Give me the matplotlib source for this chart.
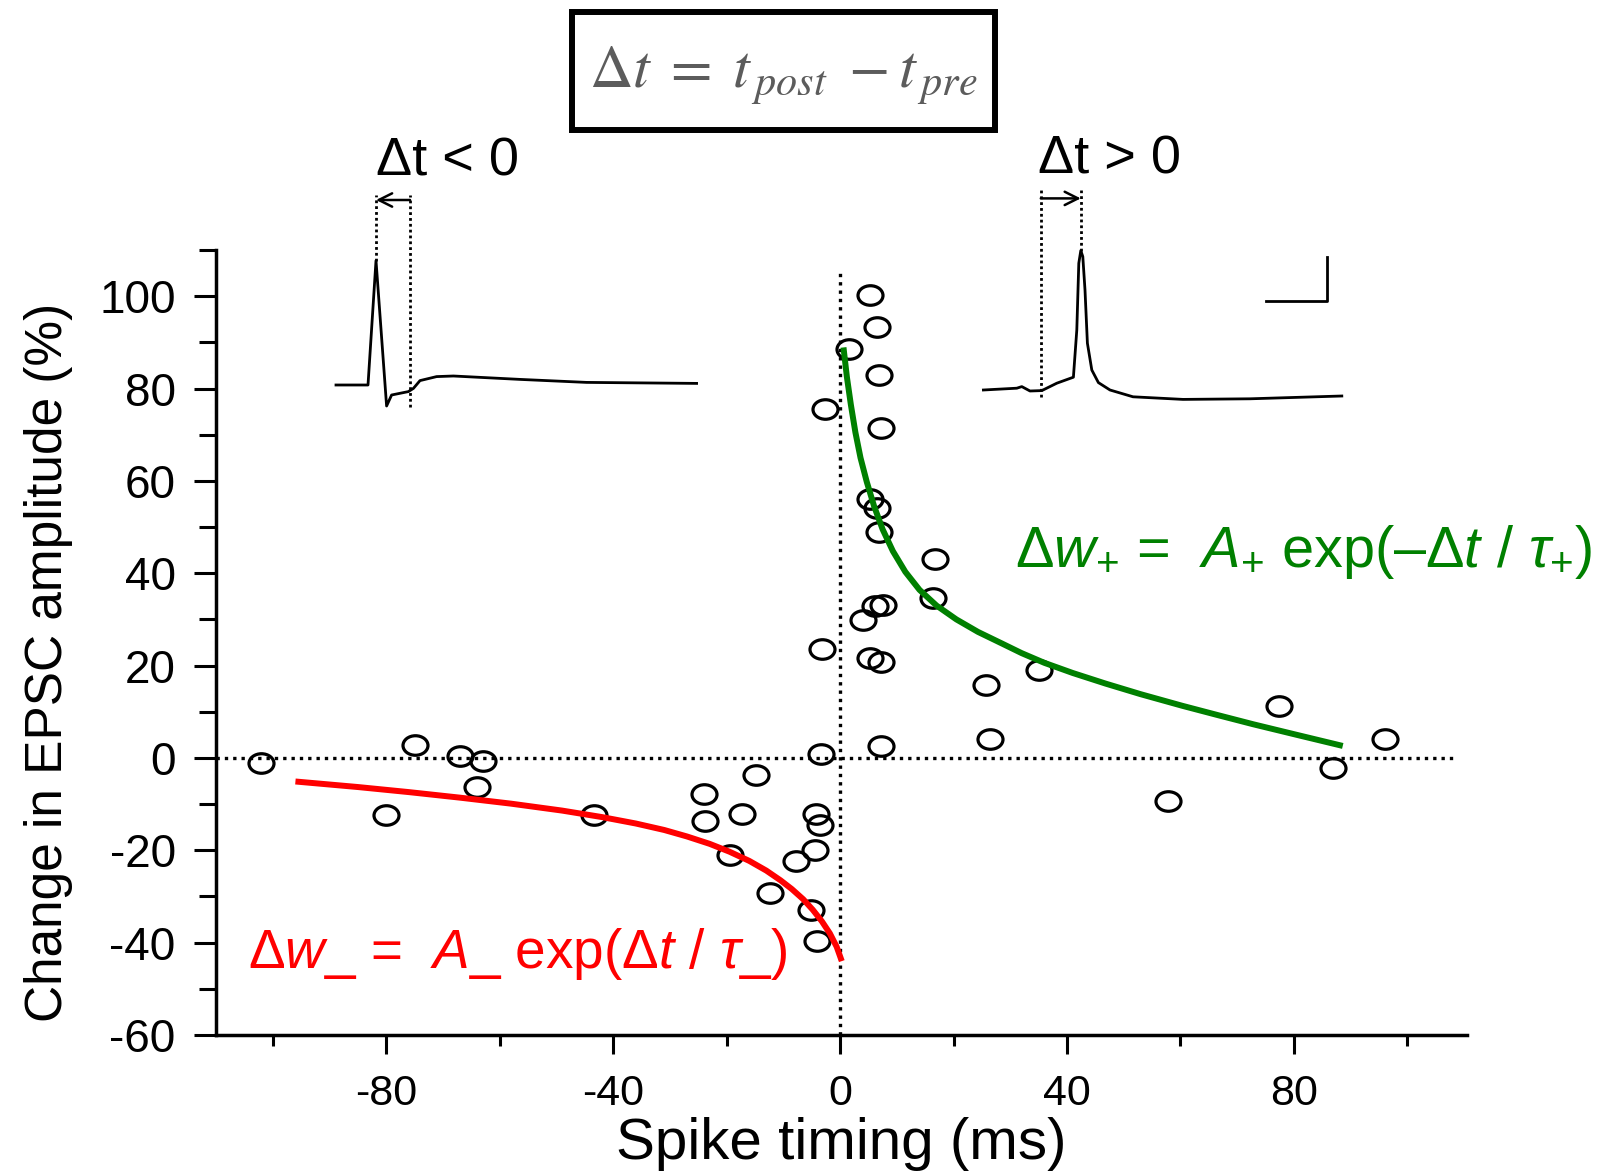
import numpy as np
import matplotlib.pyplot as plt
from matplotlib.path import Path
from matplotlib.transforms import Affine2D
from matplotlib.patches import Rectangle

plt.rcParams['font.family'] = ['Liberation Sans', 'DejaVu Sans']
plt.rcParams['mathtext.fontset'] = 'custom'
plt.rcParams['mathtext.rm'] = 'Liberation Sans'
plt.rcParams['mathtext.it'] = 'Liberation Sans:italic'
plt.rcParams['axes.unicode_minus'] = False

# spike timing (ms) vs change in EPSC amplitude (%)
dt = [-102, -80, -75, -67, -63, -64, -43.3, -24, -23.8, -17.3, -14.8, -19.4,
      -12.3, -7.8, -5.1, -4, -4.4, -4.3, -3.6, -3.4, -3.2, -2.6,
      1.5, 5.2, 6.5, 6.9, 7.2, 5.2, 6.5, 6.9, 7.5, 6.2, 4.1, 5.3, 7.2, 7.3,
      16.7, 16.3, 25.8, 26.5, 35.1, 57.8, 77.4, 86.9, 96.1]
dw = [-1.1, -12.4, 2.8, 0.5, -0.7, -6.3, -12.3, -7.9, -13.7, -12.2, -3.8, -21.1,
      -29.2, -22.4, -32.9, -39.6, -20, -12.2, -14.6, 0.9, 23.6, 75.5,
      88.5, 100.3, 93.3, 82.9, 71.4, 56, 54.2, 48.9, 33.2, 32.9, 29.8, 21.7, 20.7, 2.6,
      43.1, 34.7, 15.9, 4, 19, -9.3, 11.3, -2.2, 4.2]

# fitted curves
ltd_t = [-96, -85, -76, -67, -58, -49, -42, -36, -31, -27, -23, -19.5, -16, -13,
         -10.5, -8.5, -6.5, -4.8, -3.2, -1.8, -0.6, 0.3]
ltd_w = [-5.1, -6.3, -7.4, -8.6, -9.9, -11.4, -12.8, -14.2, -15.6, -17.0, -18.6,
         -20.3, -22.3, -24.4, -26.5, -28.4, -30.6, -32.9, -35.4, -38.0, -40.9, -44]
ltp_t = [0.6, 1.2, 1.9, 2.7, 3.6, 4.7, 6.0, 7.5, 9.3, 11.5, 14, 17, 20.5, 24.3,
         28.5, 32, 36, 41, 46.8, 53, 60.3, 66.5, 72.8, 80.5, 88.6]
ltp_w = [88.9, 82.5, 76.5, 70.5, 65, 59.8, 54.5, 49.5, 44.8, 40.3, 36.4, 33, 30,
         27.3, 24.8, 22.7, 20.6, 18.4, 16.1, 13.8, 11.3, 9.3, 7.3, 5.0, 2.6]

# example traces (ms, mV-ish)
pre_t = [0, 16, 20, 25.3, 27.8, 36.2, 38.7, 42, 50.3, 58.7, 92, 125.3, 180.3]
pre_v = [0, 0, 62.2, -10.5, -5, -3.3, -1.7, 2.2, 4.2, 4.5, 2.8, 1.3, 0.8]
post_t = [0.2, 16.9, 19.4, 23.5, 29.4, 36.9, 45.2, 46.9, 47.9, 48.9, 49.9, 51, 52.2,
          54.4, 57.7, 63.5, 75, 100, 133.5, 179.4]
post_v = [0, 0.9, 1.7, -0.5, -0.3, 3.4, 6.4, 30, 63.4, 69.7, 66.7, 50, 23.4,
          10, 3.7, 0, -3.4, -4.7, -4.4, -3]

xmajor = [-80, -40, 0, 40, 80]
xminor = [-100, -60, -20, 20, 60, 100]
ymajor = [-60, -40, -20, 0, 20, 40, 60, 80, 100]
yminor = [-50, -30, -10, 10, 30, 50, 70, 90, 110]

W, H = 1598, 1173


def box(x0, y0, x1, y1):
    return [x0 / W, 1 - y1 / H, (x1 - x0) / W, (y1 - y0) / H]


fig = plt.figure(figsize=(W / 100, H / 100), dpi=100)
ax = fig.add_axes(box(216, 250, 1467, 1035))

ax.axhline(0, xmax=0.99, color='black', lw=2.4, linestyle=(0, (1, 1.5)), zorder=1)
ax.axvline(0, ymax=0.976, color='black', lw=2.4, linestyle=(0, (1, 1.5)), zorder=1)

ell = Path.unit_circle().transformed(Affine2D().scale(1.28, 1.0))
ax.plot(dt, dw, linestyle='none', marker=ell, ms=18, mfc='none', mec='black',
        mew=2.3, zorder=2)

ax.plot(ltd_t, ltd_w, color='red', lw=4.3, solid_capstyle='butt',
        solid_joinstyle='round', zorder=3)
ax.plot(ltp_t, ltp_w, color='green', lw=4.3, solid_capstyle='butt',
        solid_joinstyle='round', zorder=3)

ax.set_xlim(-110, 110.5)
ax.set_ylim(-60, 110)
for s in ['top', 'right']:
    ax.spines[s].set_visible(False)
for s in ['left', 'bottom']:
    ax.spines[s].set_linewidth(2.5)
ax.set_xticks(xmajor)
ax.set_xticks(xminor, minor=True)
ax.set_yticks(ymajor)
ax.set_yticks(yminor, minor=True)
ax.tick_params(axis='x', which='major', length=14, width=2.2, pad=14, labelsize=31)
ax.tick_params(axis='x', which='minor', length=8, width=2.2)
ax.tick_params(axis='y', which='major', length=16, width=2.2, pad=13, labelsize=33)
ax.tick_params(axis='y', which='minor', length=12, width=2.2)

ax.set_xlabel('Spike timing (ms)', fontsize=42)
ax.xaxis.set_label_coords(0.5, -0.104)
ax.set_ylabel('Change in EPSC amplitude (%)', fontsize=37)
ax.yaxis.set_label_coords(-0.114, 0.475)

fig.text(248 / W, 1 - 968 / H, 'Δ$w$_ =  $A$_ exp(Δ$t$ / $\\tau$_)',
         color='red', fontsize=39.5, va='baseline', ha='left')
fig.text(1015 / W, 1 - 567 / H, 'Δ$w_{+}$ =  $A_{+}$ exp(–Δ$t$ / $\\tau_{+}$)',
         color='green', fontsize=41.5, va='baseline', ha='left')

# top formula box
fig.add_artist(Rectangle((572 / W, 1 - 130 / H), 423 / W, 118 / H,
                         transform=fig.transFigure, fc='white', ec='black', lw=4.3))
fig.text(783 / W, 1 - 88 / H, r'$\Delta t\;=\;t_{\,post}\;-t_{\,pre}$',
         math_fontfamily='stix', color='#5c5c5c', fontsize=43.5,
         ha='center', va='baseline')

fig.text(447 / W, 1 - 175 / H, 'Δt < 0', fontsize=39, ha='center', va='baseline')
fig.text(1109 / W, 1 - 173 / H, 'Δt > 0', fontsize=39, ha='center', va='baseline')

# left inset: post spike before pre
axl = fig.add_axes(box(330, 180, 720, 420))
axl.set_xlim(-3, 192)
axl.set_ylim(-17.5, 102.5)
axl.axis('off')
axl.plot(pre_t, pre_v, color='black', lw=2)
axl.vlines([20], 62.2, 95, colors='black', lw=2, linestyles=(0, (1, 1.1)))
axl.vlines([37], -10.8, 95, colors='black', lw=2, linestyles=(0, (1, 1.1)))
axl.annotate('', xy=(20, 92.5), xytext=(37, 92.5),
             arrowprops=dict(arrowstyle='->', lw=1.8, color='black',
                             shrinkA=0, shrinkB=0, mutation_scale=24))

# right inset: pre before post
axr = fig.add_axes(box(975, 180, 1345, 420))
axr.set_xlim(-4, 181)
axr.set_ylim(-15, 105)
axr.axis('off')
axr.plot(post_t, post_v, color='black', lw=2)
axr.vlines([28.9], -3.4, 100, colors='black', lw=2, linestyles=(0, (1, 1.1)))
axr.vlines([48.9], 69.7, 100, colors='black', lw=2, linestyles=(0, (1, 1.1)))
axr.annotate('', xy=(48.9, 95.8), xytext=(28.9, 95.8),
             arrowprops=dict(arrowstyle='->', lw=1.8, color='black',
                             shrinkA=0, shrinkB=0, mutation_scale=24))
scale_t = [141.5, 172.2, 172.2]
scale_v = [44.7, 44.7, 66.7]
axr.plot(scale_t, scale_v, color='black', lw=2)

fig.savefig('out.png', dpi=100)
